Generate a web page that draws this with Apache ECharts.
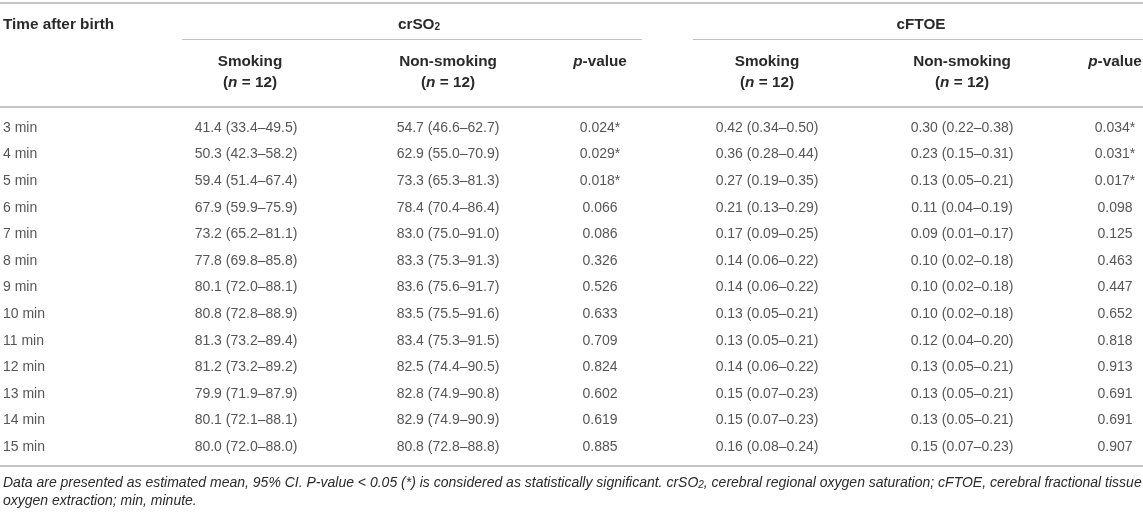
<!DOCTYPE html>
<html>
<head>
<meta charset="utf-8">
<script src="https://cdn.jsdelivr.net/npm/echarts@6/dist/echarts.min.js"></script>
<style>
  html, body { margin: 0; padding: 0; background: #fff; }
  #chart { width: 1143px; height: 515px; }
</style>
</head>
<body>
<div id="chart"></div>
<script>
// ---------- data ----------
const times = ['3 min','4 min','5 min','6 min','7 min','8 min','9 min','10 min','11 min','12 min','13 min','14 min','15 min'];

const crSmkMean = [41.4, 50.3, 59.4, 67.9, 73.2, 77.8, 80.1, 80.8, 81.3, 81.2, 79.9, 80.1, 80.0];
const crSmkLo   = [33.4, 42.3, 51.4, 59.9, 65.2, 69.8, 72.0, 72.8, 73.2, 73.2, 71.9, 72.1, 72.0];
const crSmkHi   = [49.5, 58.2, 67.4, 75.9, 81.1, 85.8, 88.1, 88.9, 89.4, 89.2, 87.9, 88.1, 88.0];

const crNonMean = [54.7, 62.9, 73.3, 78.4, 83.0, 83.3, 83.6, 83.5, 83.4, 82.5, 82.8, 82.9, 80.8];
const crNonLo   = [46.6, 55.0, 65.3, 70.4, 75.0, 75.3, 75.6, 75.5, 75.3, 74.4, 74.9, 74.9, 72.8];
const crNonHi   = [62.7, 70.9, 81.3, 86.4, 91.0, 91.3, 91.7, 91.6, 91.5, 90.5, 90.8, 90.9, 88.8];

const crP = [0.024, 0.029, 0.018, 0.066, 0.086, 0.326, 0.526, 0.633, 0.709, 0.824, 0.602, 0.619, 0.885];

const cfSmkMean = [0.42, 0.36, 0.27, 0.21, 0.17, 0.14, 0.14, 0.13, 0.13, 0.14, 0.15, 0.15, 0.16];
const cfSmkLo   = [0.34, 0.28, 0.19, 0.13, 0.09, 0.06, 0.06, 0.05, 0.05, 0.06, 0.07, 0.07, 0.08];
const cfSmkHi   = [0.50, 0.44, 0.35, 0.29, 0.25, 0.22, 0.22, 0.21, 0.21, 0.22, 0.23, 0.23, 0.24];

const cfNonMean = [0.30, 0.23, 0.13, 0.11, 0.09, 0.10, 0.10, 0.10, 0.12, 0.13, 0.13, 0.13, 0.15];
const cfNonLo   = [0.22, 0.15, 0.05, 0.04, 0.01, 0.02, 0.02, 0.02, 0.04, 0.05, 0.05, 0.05, 0.07];
const cfNonHi   = [0.38, 0.31, 0.21, 0.19, 0.17, 0.18, 0.18, 0.18, 0.20, 0.21, 0.21, 0.21, 0.23];

const cfP = [0.034, 0.031, 0.017, 0.098, 0.125, 0.463, 0.447, 0.652, 0.818, 0.913, 0.691, 0.691, 0.907];

const groupLabels = ['crSO2', 'cFTOE'];
const colLabels = ['Smoking', 'Non-smoking', 'p-value', 'Smoking', 'Non-smoking', 'p-value'];
const groupN = [12, 12, null, 12, 12, null];

// ---------- layout / style ----------
const W = 1143;
const FONT = '"Liberation Sans", Arial, Helvetica, sans-serif';
const TXT = '#2a2a2a';
const RULE = '#c4c4c4';
const colX = [246, 448, 600, 767, 962, 1115];
const rowTop = 114.7, rowPitch = 26.6;
const BODY = 14, HEAD = 15.3, FOOT = 14;

const fmtCI = (m, lo, hi, d) => m.toFixed(d) + ' (' + lo.toFixed(d) + '\u2013' + hi.toFixed(d) + ')';
const fmtP = p => p.toFixed(3) + (p < 0.05 ? '*' : '');

const columns = [
  times.map((_, i) => fmtCI(crSmkMean[i], crSmkLo[i], crSmkHi[i], 1)),
  times.map((_, i) => fmtCI(crNonMean[i], crNonLo[i], crNonHi[i], 1)),
  crP.map(fmtP),
  times.map((_, i) => fmtCI(cfSmkMean[i], cfSmkLo[i], cfSmkHi[i], 2)),
  times.map((_, i) => fmtCI(cfNonMean[i], cfNonLo[i], cfNonHi[i], 2)),
  cfP.map(fmtP)
];

const labelBase = { show: true, position: 'inside', color: TXT, fontSize: BODY, fontFamily: FONT };

const series = [];
series.push({
  type: 'scatter', symbolSize: 0, silent: true,
  data: times.map((t, i) => [3, t]),
  label: Object.assign({}, labelBase, { align: 'left', formatter: p => times[p.dataIndex] })
});
columns.forEach((col, c) => {
  series.push({
    type: 'scatter', symbolSize: 0, silent: true,
    data: col.map((_, i) => [colX[c], times[i]]),
    label: Object.assign({}, labelBase, { align: 'center', formatter: p => col[p.dataIndex] })
  });
});

// ---------- header / rules / footnote (graphic) ----------
const rich = {
  b:  { fontFamily: FONT, fontSize: HEAD, fontWeight: 'bold', color: TXT, lineHeight: 18, verticalAlign: 'bottom' },
  bi: { fontFamily: FONT, fontSize: HEAD, fontWeight: 'bold', fontStyle: 'italic', color: TXT, lineHeight: 18, verticalAlign: 'bottom' },
  bs: { fontFamily: FONT, fontSize: 10, fontWeight: 'bold', color: TXT, lineHeight: 10, verticalAlign: 'bottom' },
  i:  { fontFamily: FONT, fontSize: FOOT, fontStyle: 'italic', color: TXT, lineHeight: 17, verticalAlign: 'bottom' },
  is: { fontFamily: FONT, fontSize: 10, fontStyle: 'italic', color: TXT, lineHeight: 10, verticalAlign: 'bottom' }
};
function txt(x, y, text, align) {
  return { type: 'text', x: x, y: y, silent: true,
    style: { text: text, rich: rich, align: align || 'center', verticalAlign: 'middle',
             font: 'bold ' + HEAD + 'px ' + FONT, fill: TXT } };
}
function line(x1, x2, y, w) {
  return { type: 'line', silent: true, shape: { x1: x1, y1: y, x2: x2, y2: y },
    style: { stroke: RULE, lineWidth: w } };
}
const subify = (s, tag, subTag) => s.replace(/SO2/, 'SO}{' + subTag + '|2}{' + tag + '|');
const headerCell = s => s === 'p-value' ? '{bi|p}{b|-value}' : '{b|' + s + '}';

const graphics = [
  line(0, W, 3, 2),
  line(182, 642, 39.5, 1),
  line(693, W, 39.5, 1),
  line(0, W, 107, 2),
  line(0, W, 466, 2),
  txt(3, 23, '{b|Time after birth}', 'left'),
  txt(419, 23, '{b|' + subify(groupLabels[0], 'b', 'bs') + '}'),
  txt(921, 23, '{b|' + groupLabels[1] + '}')
];
colLabels.forEach((s, c) => {
  graphics.push(txt(colX[c] + (c === 0 ? 4 : 0), 60, headerCell(s)));
  if (groupN[c] !== null) graphics.push(txt(colX[c] + (c === 0 ? 4 : 0), 81, '{b|(}{bi|n}{b| = ' + groupN[c] + ')}'));
});
const foot1 = 'Data are presented as estimated mean, 95% CI. P-value < 0.05 (*) is considered as statistically significant. crSO2, cerebral regional oxygen saturation; cFTOE, cerebral fractional tissue';
const foot2 = 'oxygen extraction; min, minute.';
graphics.push(txt(3, 482, '{i|' + subify(foot1, 'i', 'is') + '}', 'left'));
graphics.push(txt(3, 500, '{i|' + foot2 + '}', 'left'));

// ---------- chart ----------
const chart = echarts.init(document.getElementById('chart'), null, { renderer: 'canvas' });
chart.setOption({
  animation: false,
  backgroundColor: '#ffffff',
  grid: { left: 0, right: 0, top: rowTop, height: rowPitch * times.length },
  xAxis: { type: 'value', min: 0, max: W, show: false },
  yAxis: { type: 'category', data: times, inverse: true, show: false },
  series: series,
  graphic: graphics
});
</script>
</body>
</html>
